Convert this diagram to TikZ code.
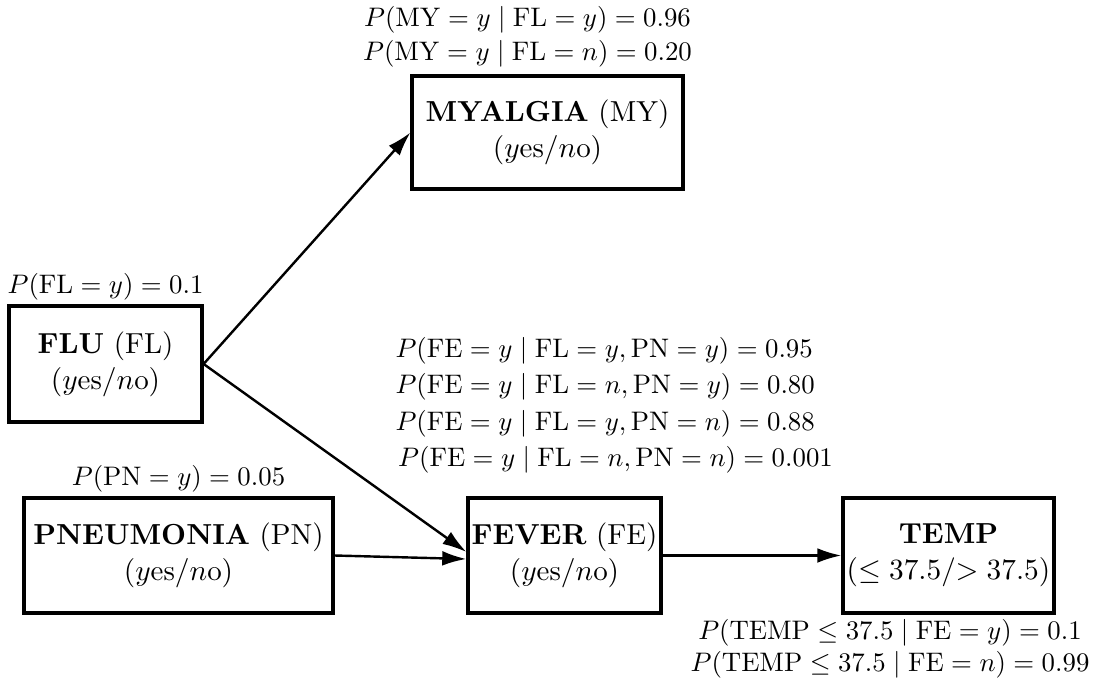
\documentclass[tikz,border=0pt]{standalone}
\usetikzlibrary{arrows.meta,calc}
\begin{document}
\begin{tikzpicture}[x=0.3731pt,y=-0.3731pt,
  var/.style={draw,line width=1.2pt,inner sep=0pt,align=center,minimum height=42.9pt,
    font=\fontsize{10.8pt}{13pt}\selectfont},
  prob/.style={inner sep=0pt,align=center},
  edge/.style={line width=0.9pt,-{Latex[length=9pt,width=5.5pt]}}]
\useasboundingbox (0,0) rectangle (1094,682);
% variables
\node[var,minimum width=101.1pt,minimum height=42.2pt] (MY) at (547.5,132.5)
  {\textbf{MYALGIA} (MY)\\[0.4pt] $(y$es$/n$o$)$};
\node[var,minimum width=72pt,minimum height=43.3pt] (FL) at (105.5,364)
  {\textbf{FLU} (FL)\\[0.4pt] $(y$es$/n$o$)$};
\node[var,minimum width=115.3pt] (PN) at (178.5,555.5)
  {\textbf{PNEUMONIA} (PN)\\[0.4pt] $(y$es$/n$o$)$};
\node[var,minimum width=72pt] (FE) at (564.5,555.5)
  {\textbf{FEVER} (FE)\\[0.4pt] $(y$es$/n$o$)$};
\node[var,minimum width=78.7pt] (TEMP) at (948.5,555.5)
  {\textbf{TEMP}\\[0.4pt] $(\leq 37.5$/$> 37.5)$};
% probability labels
\node[prob] (pMY) at (527.5,37)
  {$P(\mathrm{MY}=y\mid\mathrm{FL}=y)=0.96$\\[0.7pt]
   $P(\mathrm{MY}=y\mid\mathrm{FL}=n)=0.20$};
\node[prob] (pFL) at (105.5,286.7) {$P(\mathrm{FL}=y)=0.1$};
\node[prob] (pPN) at (178.5,479) {$P(\mathrm{PN}=y)=0.05$};
\node[prob,align=left,anchor=west] (pFE) at (395,405.4)
  {$P(\mathrm{FE}=y\mid\mathrm{FL}=y,\mathrm{PN}=y)=0.95$\\[1.6pt]
   $P(\mathrm{FE}=y\mid\mathrm{FL}=n,\mathrm{PN}=y)=0.80$\\[1.6pt]
   $P(\mathrm{FE}=y\mid\mathrm{FL}=y,\mathrm{PN}=n)=0.88$\\[1.6pt]
   \hspace*{1pt}$P(\mathrm{FE}=y\mid\mathrm{FL}=n,\mathrm{PN}=n)=0.001$};
\node[prob] (pTEMP) at (890,649)
  {$P(\mathrm{TEMP}\leq 37.5\mid\mathrm{FE}=y)=0.1$\\
   $P(\mathrm{TEMP}\leq 37.5\mid\mathrm{FE}=n)=0.99$};
% connectors
\draw[edge] (FL.east) -- (MY.west);
\draw[edge] (FL.east) -- ($(FE.west)+(0,-3.5)$);
\draw[edge] (PN.east) -- ($(FE.west)+(0,3.5)$);
\draw[edge] (FE.east) -- (TEMP.west);
\end{tikzpicture}
\end{document}
